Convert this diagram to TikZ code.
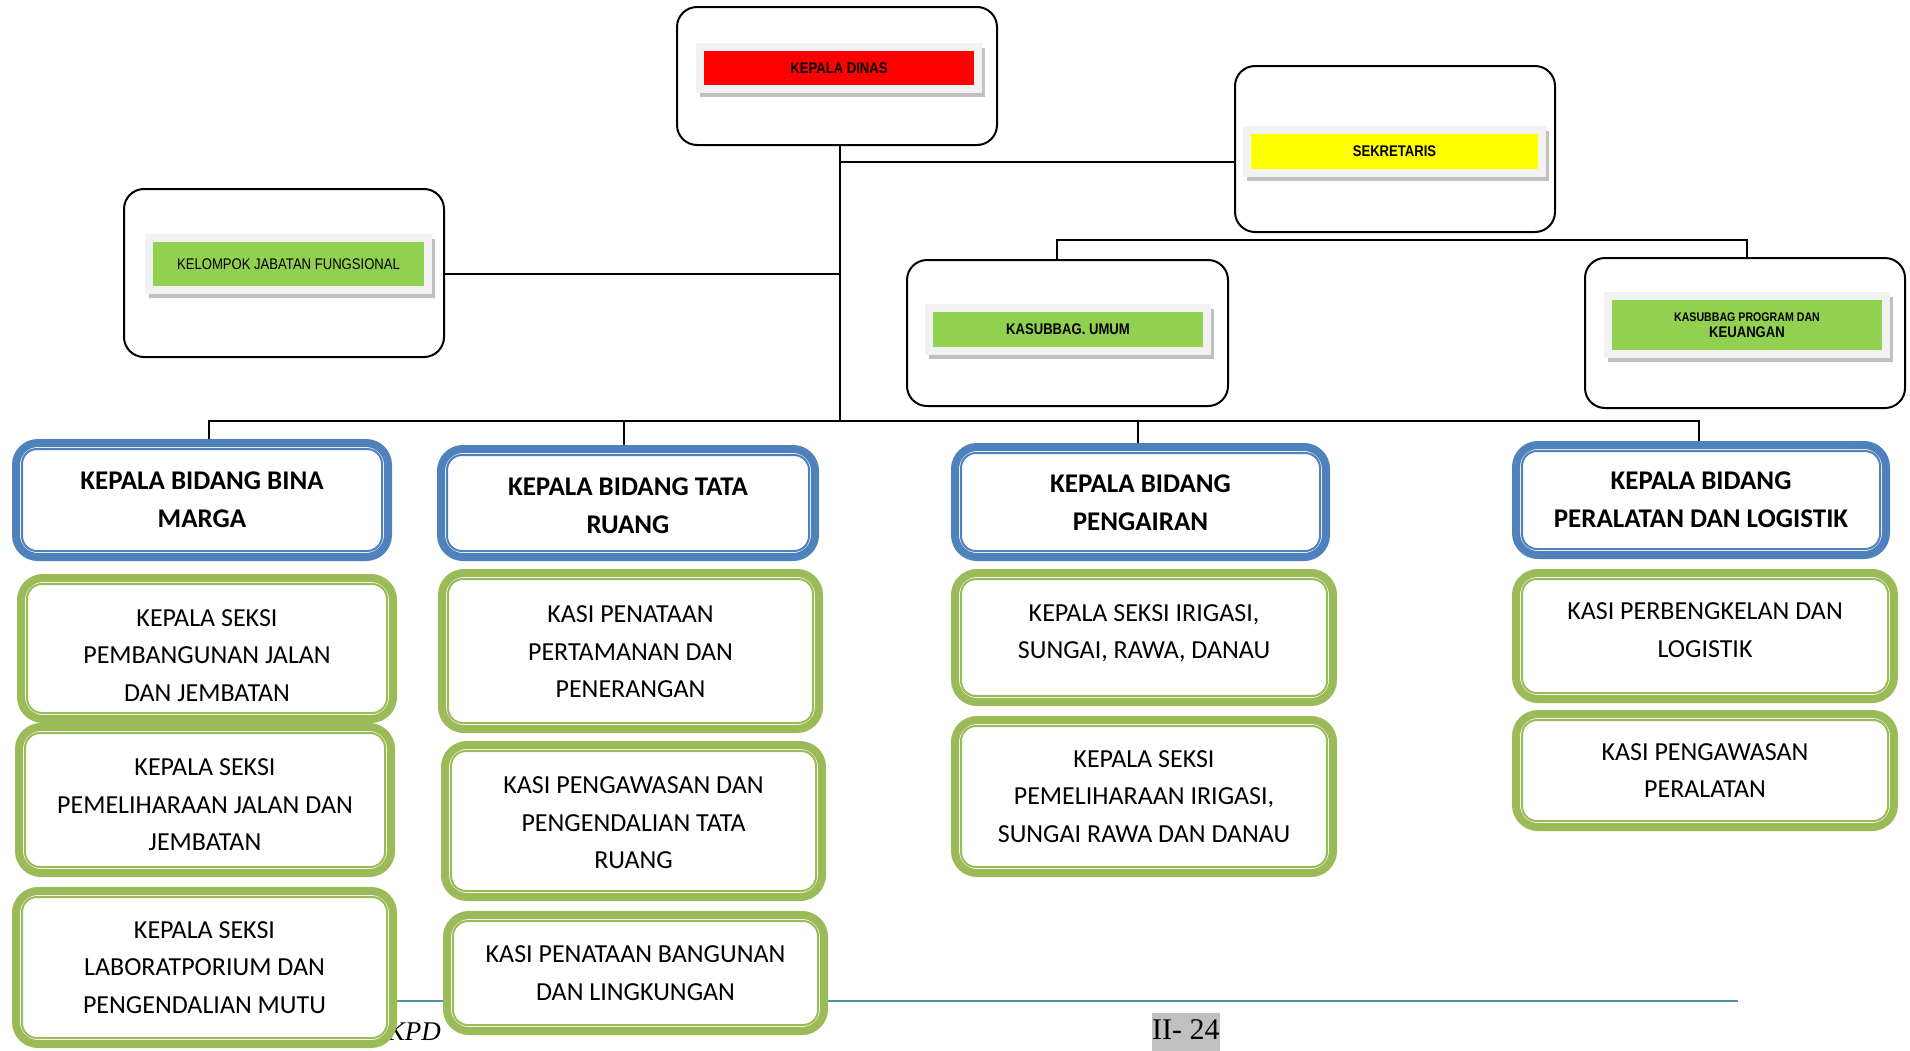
\documentclass[tikz,border=0pt]{standalone}
\usepackage{fontspec}
\usepackage{graphicx}
\setmainfont{Carlito}
\newfontfamily\arialf{Liberation Sans}
\newfontfamily\seriff{Liberation Serif}
\definecolor{bidblue}{HTML}{4F81BD}
\definecolor{sekgreen}{HTML}{9BBB59}
\definecolor{bargreen}{HTML}{92D050}
\definecolor{barred}{HTML}{FF0000}
\definecolor{baryellow}{HTML}{FFFF00}
\definecolor{panelgray}{HTML}{F2F2F2}
\definecolor{shadowgray}{HTML}{C0C0C0}
\definecolor{footteal}{HTML}{4A94AA}
\definecolor{pagegray}{HTML}{C0C0C0}
\pgfdeclarelayer{paper}
\pgfdeclarelayer{bg}
\pgfsetlayers{paper,bg,main}
\tikzset{
  conn/.style={draw=black, line width=1.8pt},
  orgbox/.style={draw=black, line width=2pt, rounded corners=20pt, fill=white, inner sep=0pt, outer sep=0pt},
  obox/.style={draw=#1, line width=8pt, rounded corners=22pt, fill=white, inner sep=0pt, outer sep=0pt},
  gtext/.style={font=\fontsize{26}{37.4}\selectfont, align=center, inner sep=0pt},
  btext/.style={font=\fontsize{27}{38}\selectfont\bfseries, align=center, inner sep=0pt},
  bartext/.style={font=\arialf\fontsize{15.4}{17}\selectfont},
}
\newcommand{\nar}[1]{\scalebox{0.85}[1]{#1}}
% name, x1, y1, x2, y2, colour, text style, text, text y offset (down)
\newcommand{\obox}[9]{%
  \node[obox=#6, minimum width={#4-#2-8}, minimum height={#5-#3-8}] (#1) at ({(#2+#4)/2},{(#3+#5)/2}) {};
  \draw[draw=#6, line width=2pt, rounded corners=15pt] ([xshift=6pt,yshift=-6pt]#1.north west) rectangle ([xshift=-6pt,yshift=6pt]#1.south east);
  \node[#7] (#1t) at ({(#2+#4)/2},{(#3+#5)/2+#9}) {#8};
}
% name, x1, y1, x2, y2
\newcommand{\topbox}[5]{%
  \node[orgbox, minimum width={#4-#2}, minimum height={#5-#3}] (#1) at ({(#2+#4)/2},{(#3+#5)/2}) {};
}
% name, x1, y1, x2, y2, colour, text
\newcommand{\tbar}[7]{%
  \fill[shadowgray] ({#2-4},{#3-3}) rectangle ({#4+11},{#5+12});
  \fill[panelgray] ({#2-8},{#3-8}) rectangle ({#4+8},{#5+8});
  \node[fill=#6, minimum width={#4-#2}, minimum height={#5-#3}, inner sep=0pt, outer sep=0pt, bartext, align=center] (#1) at ({(#2+#4)/2},{(#3+#5)/2}) {#7};
}
\begin{document}
\begin{tikzpicture}[x=1pt,y=-1pt]
\useasboundingbox (0,0) rectangle (1910,1050);
\begin{pgfonlayer}{paper}
\fill[white] (0,0) rectangle (1910,1050);
\end{pgfonlayer}

% top boxes
\topbox{kd}{677}{7}{997}{145}
\tbar{kdbar}{704}{51}{974}{85}{barred}{\bfseries\nar{KEPALA DINAS}}
\topbox{sek}{1235}{66}{1555}{232}
\tbar{sekbar}{1251}{134}{1538}{169}{baryellow}{\bfseries\nar{SEKRETARIS}}
\topbox{kjf}{124}{189}{444}{357}
\tbar{kjfbar}{153}{242}{424}{286}{bargreen}{\nar{KELOMPOK JABATAN FUNGSIONAL}}
\topbox{um}{907}{260}{1228}{406}
\tbar{umbar}{933}{312}{1203}{347}{bargreen}{\bfseries\nar{KASUBBAG. UMUM}}
\topbox{prog}{1585}{258}{1905}{408}
\tbar{progbar}{1612}{300}{1882}{350}{bargreen}{\bfseries{\fontsize{12.5}{15}\selectfont\nar{KASUBBAG PROGRAM DAN}}\\[-1pt]\bfseries\nar{KEUANGAN}}

% bidang boxes
\obox{b1}{12}{439}{392}{561}{bidblue}{btext}{KEPALA BIDANG BINA\\MARGA}{0}
\obox{b2}{437}{445}{819}{561}{bidblue}{btext}{KEPALA BIDANG TATA\\RUANG}{3}
\obox{b3}{951}{443}{1330}{561}{bidblue}{btext}{KEPALA BIDANG\\PENGAIRAN}{1}
\obox{b4}{1512}{441}{1890}{559}{bidblue}{btext}{KEPALA BIDANG\\PERALATAN DAN LOGISTIK}{0}

% seksi boxes
\obox{g1a}{17}{574}{397}{723}{sekgreen}{gtext}{KEPALA SEKSI\\PEMBANGUNAN JALAN\\DAN JEMBATAN}{7}
\obox{g1b}{15}{723}{395}{877}{sekgreen}{gtext}{KEPALA SEKSI\\PEMELIHARAAN JALAN DAN\\JEMBATAN}{5}
\obox{g1c}{12}{887}{397}{1048}{sekgreen}{gtext}{KEPALA SEKSI\\LABORATPORIUM DAN\\PENGENDALIAN MUTU}{0}
\obox{g2a}{438}{569}{823}{733}{sekgreen}{gtext}{KASI PENATAAN\\PERTAMANAN DAN\\PENERANGAN}{1}
\obox{g2b}{441}{741}{826}{901}{sekgreen}{gtext}{KASI PENGAWASAN DAN\\PENGENDALIAN TATA\\RUANG}{2}
\obox{g2c}{443}{911}{828}{1035}{sekgreen}{gtext}{KASI PENATAAN BANGUNAN\\DAN LINGKUNGAN}{0}
\obox{g3a}{951}{569}{1337}{706}{sekgreen}{gtext}{KEPALA SEKSI IRIGASI,\\SUNGAI, RAWA, DANAU}{-4}
\obox{g3b}{951}{716}{1337}{877}{sekgreen}{gtext}{KEPALA SEKSI\\PEMELIHARAAN IRIGASI,\\SUNGAI RAWA DAN DANAU}{0}
\obox{g4a}{1512}{569}{1898}{703}{sekgreen}{gtext}{KASI PERBENGKELAN DAN\\LOGISTIK}{-6}
\obox{g4b}{1512}{710}{1898}{831}{sekgreen}{gtext}{KASI PENGAWASAN\\PERALATAN}{0}

\begin{pgfonlayer}{bg}
  % footer
  \coordinate (fl) at (300,1001);
  \coordinate (fr) at (1738,1001);
  \draw[footteal, line width=2.5pt] (fl) -- (fr);
  \node[fill=pagegray, inner sep=0pt, text height=26pt, text depth=14pt, anchor=base west, font=\seriff\fontsize{30}{32}\selectfont] (page) at (1152,1039) {II- 24};
  \node[anchor=base east, inner sep=0pt, font=\seriff\itshape\fontsize{27}{30}\selectfont] (kpd) at (441,1040) {KPD};
  % connectors
  \coordinate (j1) at (840,162);
  \coordinate (j2) at (840,274);
  \coordinate (jb) at (840,421);
  \coordinate (umdrop) at (1057,240);
  \coordinate (progdrop) at (1747,240);
  \coordinate (d1) at (209,421);
  \coordinate (d2) at (624,421);
  \coordinate (d3) at (1138,421);
  \coordinate (d4) at (1699,421);
  \draw[conn] (jb |- kd.south) -- (jb);
  \draw[conn] (j1) -- (j1 -| sek.west);
  \draw[conn] (j2) -- (j2 -| kjf.east);
  \draw[conn] (umdrop |- um.north) -- (umdrop) -- (progdrop) -- (progdrop |- prog.north);
  \draw[conn] (d1 |- b1.north) -- (d1) -- (d4) -- (d4 |- b4.north);
  \draw[conn] (d2 |- b2.north) -- (d2);
  \draw[conn] (d3 |- b3.north) -- (d3);
\end{pgfonlayer}
\end{tikzpicture}
\end{document}
